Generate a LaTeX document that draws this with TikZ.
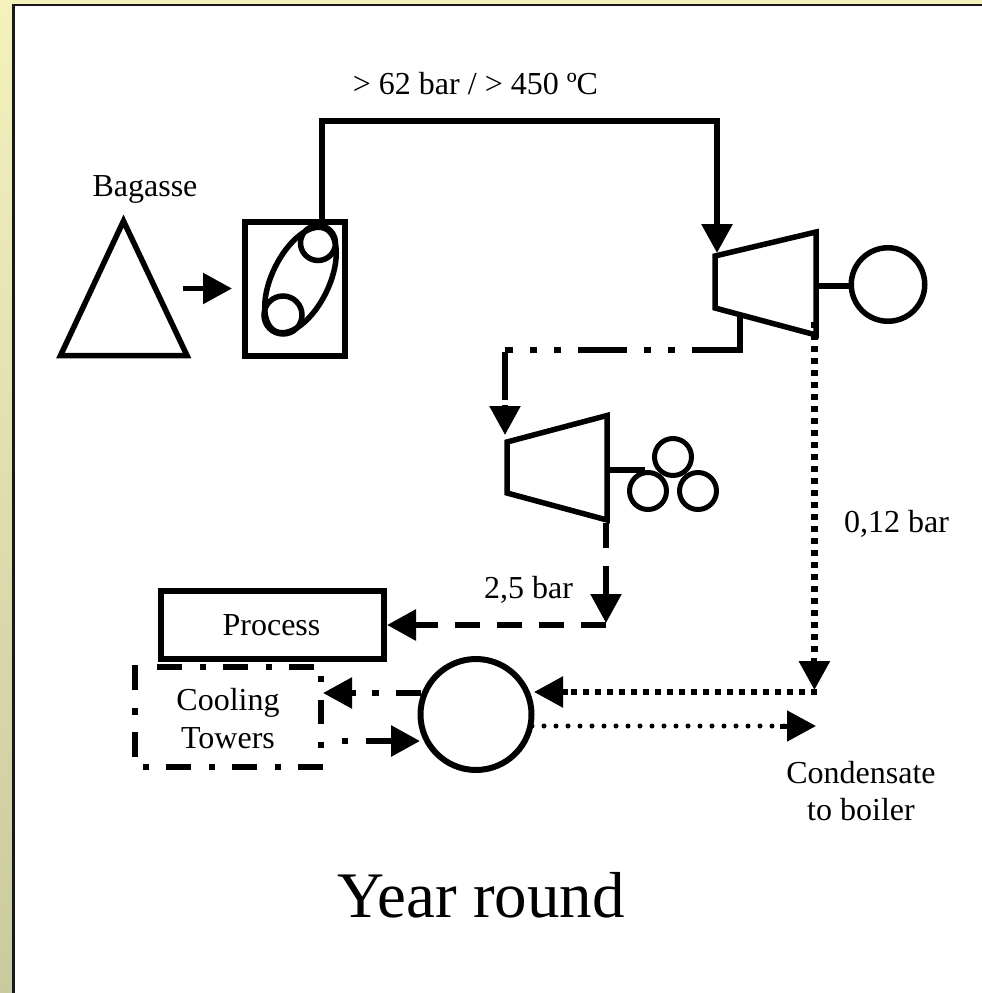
\documentclass[tikz,border=0pt]{standalone}
\usepackage{fontspec}
\setmainfont{Liberation Serif}
\usetikzlibrary{arrows.meta}
\definecolor{frametop}{HTML}{F4F1BC}
\definecolor{framebot}{HTML}{CACAA0}
\tikzset{
 x=1pt,y=-1pt,
 ln/.style={line width=5.5pt,line cap=butt,miter limit=10},
 tip/.style={-{Triangle[length=29pt,width=30pt]}},
 lbl/.style={inner sep=0pt,anchor=base,font=\fontsize{32}{36}\selectfont,align=center},
 ring/.style={circle,draw,line width=5.5pt,inner sep=0pt,outer sep=0pt},
 sqdots/.style={line width=6.5pt,dash pattern=on 6pt off 6pt},
 rounddots/.style={line width=5pt,line cap=round,dash pattern=on 0pt off 12pt},
 dashes/.style={line width=6pt,dash pattern=on 25pt off 17pt},
 towerline/.style={line width=6pt},
}
\begin{document}
\begin{tikzpicture}
\useasboundingbox (0,0) rectangle (982,993);
\shade[top color=frametop,bottom color=framebot] (0,0) rectangle (982,993);
\fill[white] (14,5) rectangle (982,993);
\draw[line width=2.6pt,black!90] (13.7,993) -- (13.7,5) -- (982,5);
% fuel and boiler
\draw[ln] (123.5,221) -- (187,355.5) -- (60.5,355.5) -- cycle;
\node[lbl] (bag) at (145,196.5) {Bagasse};
\draw[ln] (245,222) rectangle (345,356);
\draw[ln,shift={(300.5,280)},rotate=64] (0,0) ellipse (57 and 28.5);
\node[ring,minimum size=35pt] (c1) at (318,243) {};
\node[ring,minimum size=38pt] (c2) at (283,315) {};
\coordinate (arrA) at (183,288.5);
\coordinate (arrB) at (232,288.5);
\draw[ln,tip] (arrA) -- (arrB);
% live steam
\coordinate (s1) at (321.5,222);
\coordinate (s2) at (321.5,121);
\coordinate (s3) at (717,121);
\coordinate (s4) at (717,253);
\draw[line width=6pt,tip] (s1) -- (s2) -- (s3) -- (s4);
\node[lbl] (top) at (475.5,94) {> 62 bar / > 450 ºC};
% first turbine and generator
\draw[ln] (715,256) -- (816,232) -- (816,335) -- (715,308) -- cycle;
\node[ring,minimum size=73.5pt] (gen) at (888,284.5) {};
\coordinate (shaftA) at (816,286);
\draw[ln] (shaftA) -- (gen.west |- shaftA);
% extraction
\coordinate (x1) at (739.5,317);
\coordinate (x2) at (739.5,350);
\coordinate (x3) at (692,350);
\coordinate (x4) at (505,350);
\coordinate (x5) at (505,400);
\coordinate (x6) at (505,405);
\coordinate (x7) at (505,435);
\draw[line width=6pt] (x1) -- (x2) -- (x3);
\draw[line width=6pt,dash pattern=on 49pt off 17pt on 7pt off 17pt on 7pt off 17pt,dash phase=49pt] (x3) -- (x4);
\draw[line width=6pt] (x4) ++(0,2) -- (x5);
\draw[ln,tip] (x6) -- (x7);
% second turbine and mills
\draw[ln] (507,442) -- (607,415.5) -- (607,520) -- (507,493) -- cycle;
\node[ring,line width=5pt,minimum size=37pt] (m1) at (673,457) {};
\node[ring,line width=5pt,minimum size=37pt] (m2) at (648,491) {};
\node[ring,line width=5pt,minimum size=37pt] (m3) at (698,491) {};
\coordinate (shaftB) at (607,470);
\coordinate (shaftC) at (645,470);
\draw[ln] (shaftB) -- (shaftC);
% back pressure to process
\coordinate (p1) at (606,523);
\coordinate (p2) at (606,591);
\coordinate (p3) at (606,590);
\coordinate (p4) at (606,623);
\coordinate (p5) at (606,625);
\coordinate (p6) at (413,625);
\coordinate (p7) at (420,625);
\coordinate (p8) at (387,625);
\draw[line width=6pt,dash pattern=on 25pt off 18pt] (p1) -- (p2);
\draw[ln,tip] (p3) -- (p4);
\draw[dashes] (p5) -- (p6);
\draw[line width=6pt,tip] (p7) -- (p8);
\node[rectangle,draw,line width=6pt,minimum width=223pt,minimum height=68pt,inner sep=0pt,outer sep=0pt] (proc) at (272.5,625) {};
\node[lbl] (proclbl) at (271.5,635) {Process};
% cooling towers
\draw[towerline,dash pattern=on 25pt off 17pt on 6pt off 18pt] (314,667) -- (157,667);
\draw[towerline,dash pattern=on 25pt off 18pt on 7pt off 17pt] (135,665) -- (135,757);
\draw[towerline,dash pattern=on 6pt off 17pt on 25pt off 18pt] (143,767) -- (324,767);
\draw[towerline,dash pattern=on 6pt off 18pt on 24pt off 18pt] (321,748) -- (321,676);
\node[lbl] (cool1) at (228,710) {Cooling};
\node[lbl] (cool2) at (228,748) {Towers};
% condenser
\node[ring,line width=6pt,minimum size=111pt] (cond) at (476,714.5) {};
% condenser to towers
\coordinate (t1) at (421,693);
\coordinate (t2) at (353,693);
\coordinate (t3) at (356,693);
\coordinate (t4) at (323,693);
\draw[line width=6pt,dash pattern=on 25pt off 17pt on 7pt off 19pt] (t1) -- (t2);
\draw[ln,tip] (t3) -- (t4);
\coordinate (u1) at (342,741);
\coordinate (u2) at (348,741);
\coordinate (u3) at (366,741);
\coordinate (u4) at (420,741);
\draw[line width=6pt] (u1) -- (u2);
\draw[line width=6pt,tip] (u3) -- (u4);
% exhaust
\coordinate (e1) at (814.4,322);
\coordinate (e2) at (814.4,654);
\coordinate (e3) at (814.4,658);
\coordinate (e4) at (814.4,690);
\coordinate (e5) at (816.5,692);
\coordinate (e6) at (564,692);
\coordinate (e7) at (568,692);
\coordinate (e8) at (534,692);
\draw[sqdots] (e1) -- (e2);
\draw[line width=6pt,tip] (e3) -- (e4);
\draw[line width=5.5pt,dash pattern=on 6pt off 6pt] (e5) -- (e6);
\draw[ln,tip] (e7) -- (e8);
% condensate
\coordinate (r1) at (532,726);
\coordinate (r2) at (784,726);
\coordinate (r3) at (780,726);
\coordinate (r4) at (816,726);
\draw[rounddots] (r1) -- (r2);
\draw[line width=5pt,tip] (r3) -- (r4);
\node[lbl] (l25) at (528.5,598) {2,5 bar};
\node[lbl] (l012) at (896.5,532) {0,12 bar};
\node[lbl] (lcond) at (861,783) {Condensate};
\node[lbl] (lboil) at (861,820) {to boiler};
\node[inner sep=0pt,anchor=base,font=\fontsize{65}{70}\selectfont] (year) at (481,917) {Year round};
\end{tikzpicture}
\end{document}
